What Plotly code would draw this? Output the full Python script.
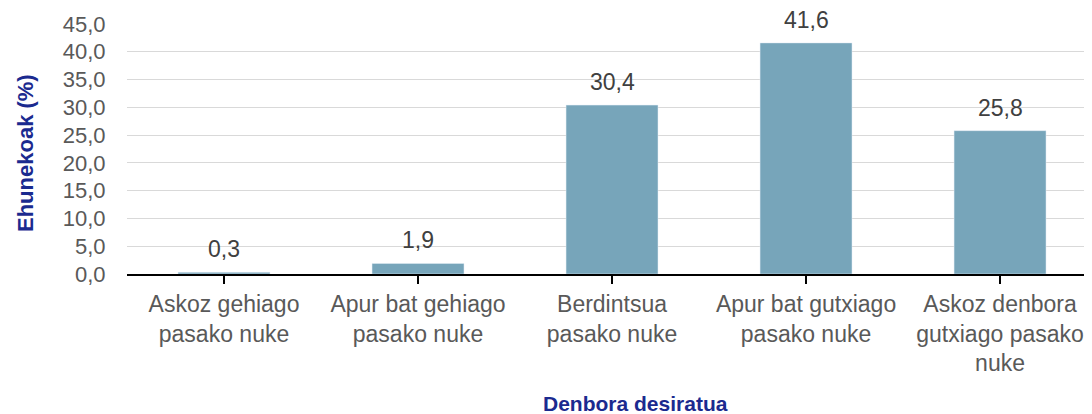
import plotly.graph_objects as go

categories = ["Askoz gehiago<br>pasako nuke", "Apur bat gehiago<br>pasako nuke",
              "Berdintsua<br>pasako nuke", "Apur bat gutxiago<br>pasako nuke",
              "Askoz denbora<br>gutxiago pasako<br>nuke"]
values = [0.3, 1.9, 30.4, 41.6, 25.8]
y_ticks = [0, 5, 10, 15, 20, 25, 30, 35, 40, 45]
y_tick_labels = [f"{v:.1f}".replace(".", ",") for v in y_ticks]

FONT = "Liberation Sans, Arial, sans-serif"
TITLE_BLUE = "#1b2a8f"
TEXT_GRAY = "#595959"

fig = go.Figure()
fig.add_trace(go.Bar(x=list(range(len(categories))), y=values,
                     marker_color="#77a5ba", width=0.474, hoverinfo="skip"))

for i, v in enumerate(values):
    fig.add_annotation(x=i, y=v, text=f"{v:.1f}".replace(".", ","),
                       showarrow=False, yanchor="bottom", yshift=8,
                       font=dict(family=FONT, size=23, color="#404040"))

fig.add_annotation(xref="paper", yref="paper", x=0.5265, y=-0.516,
                   text="<b>Denbora desiratua</b>", showarrow=False,
                   xanchor="center", yanchor="middle",
                   font=dict(family=FONT, size=21, color=TITLE_BLUE))
fig.add_annotation(xref="paper", yref="paper", x=-0.1057, y=0.484,
                   text="<b>Ehunekoak (%)</b>", showarrow=False, textangle=-90,
                   xanchor="center", yanchor="middle",
                   font=dict(family=FONT, size=22, color=TITLE_BLUE))

fig.update_layout(
    width=1084, height=406,
    margin=dict(l=119, r=0, t=16, b=140),
    plot_bgcolor="white", paper_bgcolor="white",
    showlegend=False,
    font=dict(family=FONT, size=23, color=TEXT_GRAY),
    xaxis=dict(
        tickmode="array", tickvals=list(range(len(categories))), ticktext=categories,
        range=[-0.5, 4.474], showgrid=False, zeroline=False,
        showline=True, linecolor="black", linewidth=2,
        ticks="outside", tickson="boundaries", ticklen=8, tickwidth=2, tickcolor="black",
        tickfont=dict(family=FONT, size=23, color=TEXT_GRAY),
    ),
    yaxis=dict(
        range=[0, 45], tickvals=y_ticks, ticktext=y_tick_labels,
        showgrid=True, gridcolor="#d9d9d9", gridwidth=1, zeroline=False,
        showline=False, ticks="outside", ticklen=16, tickcolor="rgba(0,0,0,0)",
        tickfont=dict(family=FONT, size=22, color=TEXT_GRAY),
    ),
)

fig.write_html("out.html")
